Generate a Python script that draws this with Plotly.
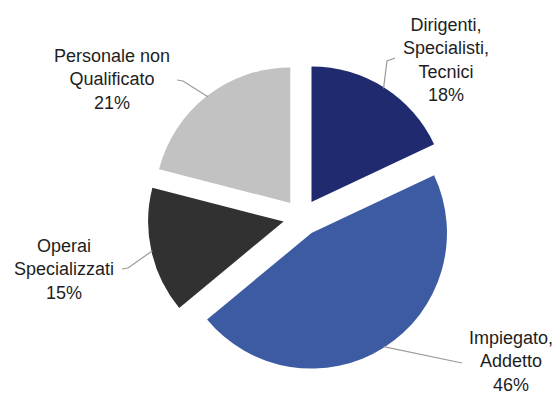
import math
import plotly.graph_objects as go

# Distribuzione per qualifica professionale
labels = ["Dirigenti,<br>Specialisti,<br>Tecnici", "Impiegato,<br>Addetto",
          "Operai<br>Specializzati", "Personale non<br>Qualificato"]
values = [18, 46, 15, 21]
colors = ["#1f2a6f", "#3d5ba3", "#313131", "#c2c2c2"]

W, H = 558, 394
CX, CY = 301.6, 217.5      # pie centre in pixels
R = 135.5                  # slice radius in pixels
PULL = 0.136               # every slice pulled out by the same fraction

# label block centres and leader-line elbows (pixels)
label_pos = [(446, 60), (511, 361), (64, 269), (112, 80)]
elbows = [[(387, 61), (395, 58)], [(462, 363)], [(128, 268), (122, 269)],
          [(183, 81), (177, 80)]]


def px(x, y):
    return x / W, 1 - y / H


side = R * (2 + 2 * PULL)
dom_x = [(CX - side / 2) / W, (CX + side / 2) / W]
dom_y = [1 - (CY + side / 2) / H, 1 - (CY - side / 2) / H]

fig = go.Figure(go.Pie(
    labels=labels, values=values, sort=False, direction="clockwise", rotation=0,
    pull=[PULL] * len(values),
    marker=dict(colors=colors, line=dict(width=0)),
    textinfo="none", hoverinfo="label+percent", showlegend=False,
    domain=dict(x=dom_x, y=dom_y),
))

total = sum(values)
shapes, annotations = [], []
start = 0.0
for lab, v, (lx, ly), elb in zip(labels, values, label_pos, elbows):
    frac = v / total
    mid = 2 * math.pi * (start + frac / 2)
    start += frac
    ux, uy = math.sin(mid), -math.cos(mid)
    ax_ = CX + ux * R * PULL
    ay_ = CY + uy * R * PULL
    # leader starts on the arc at the middle of the slice
    pts = [(ax_ + ux * (R - 1), ay_ + uy * (R - 1))] + elb
    path = "M " + " L ".join(f"{px(x, y)[0]:.5f},{px(x, y)[1]:.5f}" for x, y in pts)
    shapes.append(dict(type="path", path=path, xref="paper", yref="paper",
                       line=dict(color="#9a9a9a", width=1.2)))
    pct = round(100 * frac)
    x0, y0 = px(lx, ly)
    annotations.append(dict(
        text=f"{lab}<br>{pct}%", x=x0, y=y0, xref="paper", yref="paper",
        xanchor="center", yanchor="middle", showarrow=False, align="center",
        font=dict(family="Liberation Sans, Arial, sans-serif", size=18, color="#1e1e1e"),
    ))

fig.update_layout(
    width=W, height=H, margin=dict(l=0, r=0, t=0, b=0),
    paper_bgcolor="white", plot_bgcolor="white",
    shapes=shapes, annotations=annotations,
)

fig.write_html("out.html")
